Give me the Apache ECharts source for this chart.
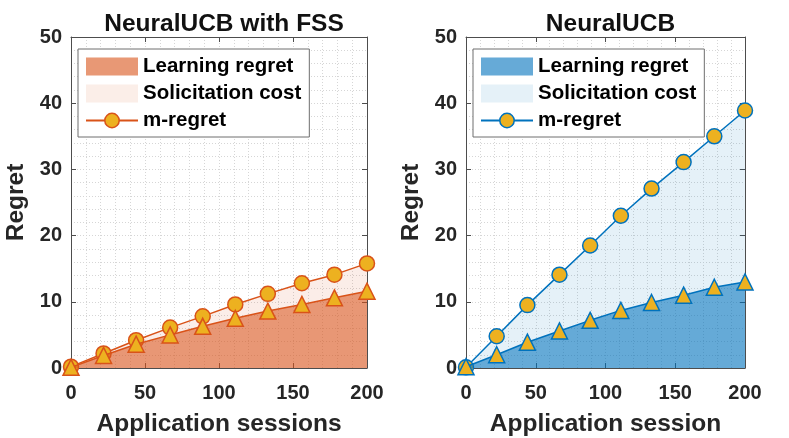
<!DOCTYPE html>
<html><head><meta charset="utf-8">
<script src="https://cdn.jsdelivr.net/npm/echarts@6/dist/echarts.min.js"></script>
<style>html,body{margin:0;padding:0;background:#fff}#c{width:789px;height:438px}</style>
</head><body><div id="c"></div>
<script>
const sessions = [0, 22, 44, 67, 89, 111, 133, 156, 178, 200];
const fssLearning = [0.1, 1.9, 3.6, 5.0, 6.3, 7.5, 8.6, 9.6, 10.6, 11.6];
const fssMRegret = [0.2, 2.2, 4.2, 6.1, 7.8, 9.6, 11.2, 12.8, 14.1, 15.8];
const ucbLearning = [0.2, 2.0, 3.9, 5.6, 7.2, 8.7, 9.9, 11.0, 12.2, 13.0];
const ucbMRegret = [0.1, 4.8, 9.5, 14.1, 18.5, 23.0, 27.1, 31.1, 35.0, 38.9];
const titles = ['NeuralUCB with FSS', 'NeuralUCB'];
const xNames = ['Application sessions', 'Application session'];
const yName = 'Regret';
const legendNames = ['Learning regret', 'Solicitation cost', 'm-regret'];

const FONT = 'Liberation Sans, Arial, Helvetica, sans-serif';
const GOLD = '#EDB120';
const themes = [
  {line: '#D95319', fill: 'rgba(217,83,25,0.556)', light: 'rgba(217,83,25,0.1)', fillSolid: '#E89875', lightSolid: '#FBEEE8'},
  {line: '#0072BD', fill: 'rgba(0,114,189,0.556)', light: 'rgba(0,114,189,0.1)', fillSolid: '#66AAD7', lightSolid: '#E5F1F8'}
];
const grids = [
  {left: 71, top: 37, width: 296, height: 331, containLabel: false, outerBoundsMode: 'none'},
  {left: 466, top: 37, width: 279, height: 331, containLabel: false, outerBoundsMode: 'none'}
];
const datasets = [[fssLearning, fssMRegret], [ucbLearning, ucbMRegret]];

const pairs = (ys) => sessions.map((x, i) => [x, ys[i]]);
const AX = '#4d4d4d';
const labelStyle = {fontSize: 20, fontWeight: 'bold', color: '#262626', fontFamily: FONT};
const nameStyle = {fontSize: 24.5, fontWeight: 'bold', color: '#262626', fontFamily: FONT};
const gridLine = {show: true, lineStyle: {color: '#d6d6d6', type: [1, 2], width: 1}};

const xAxis = [], yAxis = [], series = [], legend = [], title = [];
grids.forEach((g, k) => {
  const t = themes[k];
  title.push({text: titles[k], left: g.left + g.width / 2, top: 7, textAlign: 'center',
    textStyle: {fontSize: 24.5, fontWeight: 'bold', color: '#111', fontFamily: FONT}});
  xAxis.push({type: 'value', gridIndex: k, min: 0, max: 200, interval: 50, position: 'bottom',
    name: xNames[k], nameLocation: 'middle', nameGap: 44, nameTextStyle: nameStyle,
    axisLine: {show: true, onZero: false, lineStyle: {color: AX, width: 1}},
    axisTick: {show: true, inside: true, length: 5, lineStyle: {color: AX}},
    axisLabel: Object.assign({margin: 15}, labelStyle),
    splitLine: gridLine, minorTick: {show: false, splitNumber: 5}, minorSplitLine: gridLine});
  xAxis.push({type: 'value', gridIndex: k, min: 0, max: 200, interval: 50, position: 'top',
    axisLine: {show: true, onZero: false, lineStyle: {color: AX, width: 1}},
    axisTick: {show: true, inside: true, length: 5, lineStyle: {color: AX}},
    axisLabel: {show: false}, splitLine: {show: false}});
  yAxis.push({type: 'value', gridIndex: k, min: 0, max: 50, interval: 10, position: 'left',
    name: yName, nameLocation: 'middle', nameGap: 42, nameTextStyle: nameStyle,
    axisLine: {show: true, onZero: false, lineStyle: {color: AX, width: 1}},
    axisTick: {show: true, inside: true, length: 5, lineStyle: {color: AX}},
    axisLabel: Object.assign({margin: 9}, labelStyle),
    splitLine: gridLine, minorTick: {show: false, splitNumber: 5}, minorSplitLine: gridLine});
  yAxis.push({type: 'value', gridIndex: k, min: 0, max: 50, interval: 10, position: 'right',
    axisLine: {show: true, onZero: false, lineStyle: {color: AX, width: 1}},
    axisTick: {show: true, inside: true, length: 5, lineStyle: {color: AX}},
    axisLabel: {show: false}, splitLine: {show: false}});
  const [learn, mreg] = datasets[k];
  const xi = k * 2, yi = k * 2;
  // Solicitation cost band: light fill up to the m-regret curve (under the learning-regret fill)
  series.push({name: legendNames[1], type: 'line', xAxisIndex: xi, yAxisIndex: yi,
    data: pairs(mreg), areaStyle: {color: t.light, opacity: 1},
    lineStyle: {width: 0, opacity: 0}, symbol: 'none', itemStyle: {color: t.lightSolid}, z: 2, animation: false});
  series.push({name: legendNames[2], type: 'line', xAxisIndex: xi, yAxisIndex: yi,
    data: pairs(mreg), lineStyle: {color: t.line, width: 1.5}, symbol: 'circle', symbolSize: 15,
    itemStyle: {color: GOLD, borderColor: t.line, borderWidth: 1.5}, z: 4, animation: false});
  series.push({name: legendNames[0], type: 'line', xAxisIndex: xi, yAxisIndex: yi,
    data: pairs(learn), areaStyle: {color: t.fill, opacity: 1},
    lineStyle: {color: t.line, width: 1.5}, symbol: 'triangle', symbolSize: 16,
    itemStyle: {color: GOLD, borderColor: t.line, borderWidth: 1.5}, z: 5, animation: false});
  legend.push({orient: 'vertical', left: g.left + 7, top: 49,
    padding: [7, 8, 6, 7], itemWidth: 52, itemHeight: 18, itemGap: 6,
    backgroundColor: '#fff', borderColor: '#6e6e6e', borderWidth: 1, borderRadius: 0,
    selectedMode: false,
    textStyle: {fontSize: 20.5, fontWeight: 'bold', color: '#000', fontFamily: FONT},
    data: [
      {name: legendNames[0], icon: 'rect', itemStyle: {color: t.fillSolid, borderWidth: 0, opacity: 1}},
      {name: legendNames[1], icon: 'rect', itemStyle: {color: t.lightSolid, borderWidth: 0, opacity: 1}},
      {name: legendNames[2], itemStyle: {color: GOLD, borderColor: t.line, borderWidth: 1.5},
        lineStyle: {color: t.line, width: 2}}
    ]});
});

const chart = echarts.init(document.getElementById('c'), null, {renderer: 'canvas'});
chart.setOption({
  backgroundColor: '#fff', animation: false,
  title: title, grid: grids, xAxis: xAxis, yAxis: yAxis, legend: legend, series: series
});
</script></body></html>
